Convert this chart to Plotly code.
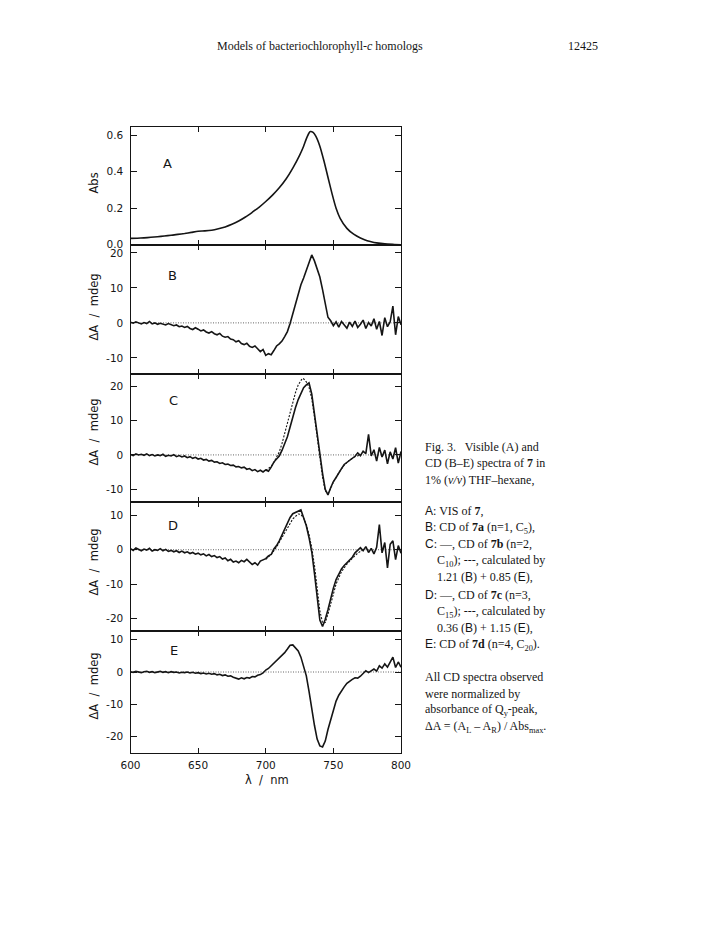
import plotly.graph_objects as go

# ---------------- data ----------------
# Panel A: visible absorption spectrum
abs_wl = [600, 605, 610, 615, 620, 625, 630, 635, 640, 645, 650, 655, 660, 665, 670,
          675, 680, 685, 690, 695, 700, 705, 710, 715, 720, 725, 728, 730, 732, 733,
          735, 737, 740, 743, 746, 749, 752, 755, 760, 765, 770, 775, 780, 785, 790,
          795, 800]
abs_val = [0.035, 0.036, 0.038, 0.041, 0.044, 0.048, 0.052, 0.057, 0.062, 0.068, 0.074,
           0.076, 0.080, 0.088, 0.098, 0.112, 0.130, 0.152, 0.178, 0.205, 0.237, 0.272,
           0.312, 0.360, 0.420, 0.490, 0.540, 0.580, 0.612, 0.620, 0.615, 0.595, 0.540,
           0.460, 0.370, 0.280, 0.200, 0.145, 0.090, 0.058, 0.037, 0.022, 0.013, 0.008,
           0.004, 0.002, 0.000]

# CD wavelength grid
cd_wl = [600, 602, 604, 606, 608, 610, 612, 614, 616, 618, 620, 622, 624, 626, 628,
         630, 632, 634, 636, 638, 640, 642, 644, 646, 648, 650, 652, 654, 656, 658,
         660, 662, 664, 666, 668, 670, 672, 674, 676, 678, 680, 682, 684, 686, 688,
         690, 692, 694, 696, 698, 700, 702, 704, 706, 708, 710, 712, 714, 716, 718,
         720, 722, 724, 726, 728, 730, 732, 734, 736, 738, 740, 742, 744, 746, 748,
         750, 752, 754, 756, 758, 760, 762, 764, 766, 768, 770, 772, 774, 776, 778,
         780, 782, 784, 786, 788, 790, 792, 794, 796, 798, 800]

cd_b = [0.2, -0.1, 0.3, 0.0, -0.3, 0.1, -0.2, 0.4, -0.3, 0.0, -0.4, -0.1, -0.3, -0.6, -0.2,
        -0.5, -0.8, -0.6, -1.1, -0.9, -1.3, -1.0, -1.6, -1.9, -1.4, -1.8, -2.3, -2.0, -2.6, -2.9,
        -2.5, -3.1, -3.4, -3.0, -3.8, -4.1, -3.9, -4.6, -4.8, -5.4, -5.1, -5.9, -6.2, -5.8, -6.7,
        -7.0, -6.6, -7.4, -8.2, -7.6, -9.3, -8.8, -9.1, -7.9, -6.6, -6.0, -5.2, -3.9, -2.5, -0.2,
        2.5, 5.7, 8.6, 10.9, 12.8, 15.2, 17.6, 19.4, 17.7, 15.6, 13.1, 9.5, 6.0, 1.6, 0.6,
        -0.8, 0.3, -1.2, 0.4, -0.6, -1.5, 0.2, -1.0, 0.5, -1.3, -0.4, 0.8, -1.6, 0.1, -0.9,
        1.2, -1.8, 0.4, -3.6, 1.5, -1.1, 0.3, 4.8, -3.4, 1.8, -0.5]

cd_c = [0.1, -0.2, 0.3, 0.0, 0.2, -0.1, 0.3, -0.2, 0.1, -0.3, 0.0, -0.2, 0.2, -0.4, -0.1,
        -0.3, 0.1, -0.5, -0.2, -0.6, -0.3, -0.8, -0.5, -1.0, -0.7, -1.2, -1.0, -1.5, -1.3, -1.8,
        -1.6, -2.1, -2.0, -2.5, -2.3, -2.8, -2.7, -3.1, -3.0, -3.5, -3.4, -3.8, -3.6, -4.2, -4.0,
        -4.6, -4.3, -4.9, -4.5, -5.0, -4.4, -4.8, -3.6, -2.1, -1.2, -0.3, 1.3, 3.2, 5.3, 8.2,
        11.2, 13.9, 16.2, 18.2, 19.7, 20.5, 21.1, 17.9, 12.0, 5.7, 0.0, -5.4, -10.1, -11.7, -9.6,
        -7.8, -6.6, -5.1, -4.0, -2.8, -2.2, -1.4, -1.0, -0.4, 0.6, -0.2, 1.1, 0.4, 6.0, -0.3,
        1.5, -1.8, 2.2, -0.6, 1.4, -2.6, 0.9, -1.2, 2.1, -2.4, 1.0]

cd_d = [0.3, -0.2, 0.5, 0.1, -0.3, 0.2, -0.1, 0.4, -0.4, 0.0, -0.2, 0.3, -0.3, 0.1, -0.5,
        -0.2, -0.6, -0.3, -0.8, -0.4, -0.9, -0.6, -1.1, -0.8, -1.3, -1.0, -1.5, -1.2, -1.8, -1.4,
        -2.0, -1.7, -2.3, -2.0, -2.7, -2.4, -3.2, -2.8, -3.6, -3.3, -3.8, -3.1, -3.5, -2.8, -3.6,
        -4.3, -3.8, -4.5, -3.3, -3.0, -2.6, -1.8, -1.4, 0.2, 1.2, 2.6, 4.3, 5.6, 7.6, 9.4,
        10.5, 10.8, 11.3, 11.6, 9.3, 7.0, 3.5, -0.6, -6.8, -13.8, -20.5, -22.4, -20.3, -17.5, -14.2,
        -11.2, -8.7, -7.0, -5.6, -4.6, -3.8, -2.9, -2.2, -0.9, -0.2, 0.6, -0.3, 0.9, -0.8, 0.4,
        -1.2, 0.7, 7.3, -0.9, 2.1, -5.3, 1.6, 2.6, -2.9, 1.2, -1.0]

cd_e = [0.1, -0.1, 0.2, 0.0, -0.2, 0.1, 0.2, -0.1, 0.1, -0.2, 0.0, 0.2, -0.1, 0.1, -0.2,
        0.1, -0.1, 0.0, -0.3, -0.1, -0.2, 0.0, -0.3, -0.1, -0.4, -0.2, -0.5, -0.3, -0.6, -0.4,
        -0.7, -0.5, -0.9, -0.7, -1.1, -0.9, -1.3, -1.2, -1.6, -1.9, -2.2, -1.8, -2.1, -1.7, -1.9,
        -1.4, -1.5, -1.0, -0.8, -0.3, 0.6, 1.1, 1.9, 2.6, 3.4, 4.3, 5.0, 6.0, 7.1, 8.3,
        8.4, 7.6, 6.5, 4.6, 1.9, -1.2, -6.0, -11.6, -16.5, -20.8, -22.9, -23.2, -21.4, -17.8, -15.0,
        -11.8, -9.0, -7.2, -5.8, -4.6, -3.5, -2.8, -2.3, -1.8, -1.9, -1.3, -0.6, 0.4, -0.2, 0.5,
        0.9, 0.3, 1.9, 1.2, 2.5, 1.5, 3.2, 4.6, 1.4, 3.1, 1.5]

# calculated spectra (dotted)
calc_c_wl = [700, 704, 706, 708, 710, 712, 714, 716, 718, 720, 722, 724, 726, 727, 728,
             730, 732, 734, 736, 738, 740, 742, 744, 746, 748, 750, 754, 758, 762, 766, 770]
calc_c = [-4.5, -3.4, -2.2, -0.8, 0.9, 3.3, 6.3, 9.6, 12.8, 15.7, 18.3, 20.5, 22.0, 22.4, 22.3,
          21.4, 19.8, 16.5, 11.2, 5.0, -1.0, -6.5, -10.5, -11.3, -9.8, -8.0, -5.2, -3.0, -1.5, -0.5, 0.0]

calc_d_wl = [700, 704, 708, 712, 716, 720, 724, 726, 728, 730, 732, 734, 736, 738, 740,
             742, 744, 746, 748, 750, 752, 756, 760, 764, 768, 772]
calc_d = [-2.8, -1.4, 0.8, 3.6, 6.6, 9.0, 10.4, 10.3, 9.2, 7.3, 4.4, 0.6, -4.5, -11.0, -17.8,
          -21.3, -21.2, -18.8, -15.6, -12.6, -10.0, -6.4, -4.2, -2.5, -1.0, 0.0]

zero_wl = [600, 800]
zero_val = [0, 0]

panel_letters = ["A", "B", "C", "D", "E"]
x_ticks = [600, 650, 700, 750, 800]
y_ticks = [[0.0, 0.2, 0.4, 0.6], [-10, 0, 10, 20], [-10, 0, 10, 20],
           [-20, -10, 0, 10], [-20, -10, 0, 10]]
y_ticktext = [["0.0", "0.2", "0.4", "0.6"], ["-10", "0", "10", "20"], ["-10", "0", "10", "20"],
              ["-20", "-10", "0", "10"], ["-20", "-10", "0", "10"]]
y_ranges = [[0.0, 0.645], [-14.6, 22.3], [-13.7, 23.7], [-23.7, 14.0], [-25.0, 12.7]]

# ---------------- layout geometry ----------------
W, H = 701, 932
X0, X1 = 130.5, 401.0
panel_px = [(127.0, 244.8), (244.8, 374.0), (374.0, 501.7), (501.7, 631.0), (631.0, 752.7)]


def px(x):
    return x / W


def py(y):
    return 1 - y / H


INK = "#151515"
SANS = "DejaVu Sans"
SERIF = "Liberation Serif"

fig = go.Figure()

series = [None, cd_b, cd_c, cd_d, cd_e]
for i in range(5):
    xa = "x" if i == 0 else f"x{i+1}"
    ya = "y" if i == 0 else f"y{i+1}"
    if i == 0:
        fig.add_trace(go.Scatter(x=abs_wl, y=abs_val, mode="lines", xaxis=xa, yaxis=ya,
                                 line=dict(color=INK, width=1.6, shape="spline", smoothing=0.6),
                                 showlegend=False, hoverinfo="skip"))
    else:
        fig.add_trace(go.Scatter(x=zero_wl, y=zero_val, mode="lines", xaxis=xa, yaxis=ya,
                                 line=dict(color="#666666", width=1, dash="1px,1.5px"),
                                 showlegend=False, hoverinfo="skip"))
        if i == 2:
            fig.add_trace(go.Scatter(x=calc_c_wl, y=calc_c, mode="lines", xaxis=xa, yaxis=ya,
                                     line=dict(color=INK, width=1.1, dash="2px,1.5px"),
                                     showlegend=False, hoverinfo="skip"))
        if i == 3:
            fig.add_trace(go.Scatter(x=calc_d_wl, y=calc_d, mode="lines", xaxis=xa, yaxis=ya,
                                     line=dict(color=INK, width=1.1, dash="2px,1.5px"),
                                     showlegend=False, hoverinfo="skip"))
        fig.add_trace(go.Scatter(x=cd_wl, y=series[i], mode="lines", xaxis=xa, yaxis=ya,
                                 line=dict(color=INK, width=1.6),
                                 showlegend=False, hoverinfo="skip"))

layout = dict(
    width=W, height=H, autosize=False,
    margin=dict(l=0, r=0, t=0, b=0, pad=0, autoexpand=False),
    paper_bgcolor="white", plot_bgcolor="white",
    showlegend=False,
    font=dict(family=SANS, color=INK, size=10),
)

annotations = []
for i in range(5):
    top, bot = panel_px[i]
    xk = "xaxis" if i == 0 else f"xaxis{i+1}"
    yk = "yaxis" if i == 0 else f"yaxis{i+1}"
    ya = "y" if i == 0 else f"y{i+1}"
    xa = "x" if i == 0 else f"x{i+1}"
    layout[xk] = dict(
        domain=[px(X0), px(X1)], anchor=ya, range=[600, 800],
        tickvals=x_ticks, ticktext=[str(v) for v in x_ticks],
        showticklabels=(i == 4), ticks="inside", ticklen=5, tickwidth=1.2,
        tickcolor=INK, showline=True, linecolor=INK, linewidth=1.3, mirror="ticks",
        showgrid=False, zeroline=False, ticklabelstandoff=3, automargin=False,
        tickfont=dict(family=SANS, size=10.5, color=INK),
    )
    layout[yk] = dict(
        domain=[py(bot), py(top)], anchor=xa, range=y_ranges[i],
        tickvals=y_ticks[i], ticktext=y_ticktext[i],
        ticks="inside", ticklen=6, tickwidth=1.2, tickcolor=INK,
        showline=True, linecolor=INK, linewidth=1.3, mirror="ticks",
        showgrid=False, zeroline=False, ticklabelstandoff=4, automargin=False,
        tickfont=dict(family=SANS, size=10.5, color=INK),
    )

# panel letters
letter_pos = [(167.5, 163.0), (172.0, 275.0), (173.0, 400.0), (173.0, 525.0), (174.0, 650.0)]
for (lx, ly), t in zip(letter_pos, panel_letters):
    annotations.append(dict(x=px(lx), y=py(ly), xref="paper", yref="paper", text=t,
                            showarrow=False, xanchor="center", yanchor="middle",
                            font=dict(family=SANS, size=13, color=INK)))

# y titles
ytitle_pos = [("Abs", 183.0), ("ΔA\u00a0\u00a0/\u00a0\u00a0mdeg", 307.0),
              ("ΔA\u00a0\u00a0/\u00a0\u00a0mdeg", 432.0), ("ΔA\u00a0\u00a0/\u00a0\u00a0mdeg", 562.0),
              ("ΔA\u00a0\u00a0/\u00a0\u00a0mdeg", 686.0)]
for t, ty in ytitle_pos:
    annotations.append(dict(x=px(93.5), y=py(ty), xref="paper", yref="paper", text=t,
                            textangle=-90, showarrow=False, xanchor="center", yanchor="middle",
                            font=dict(family=SANS, size=11.5, color=INK)))

# x title
annotations.append(dict(x=px(267), y=py(780), xref="paper", yref="paper",
                        text="λ\u00a0\u00a0/\u00a0\u00a0nm", showarrow=False,
                        xanchor="center", yanchor="middle",
                        font=dict(family=SANS, size=11.5, color=INK)))

# running header
annotations.append(dict(x=px(320), y=py(46), xref="paper", yref="paper",
                        text="Models of bacteriochlorophyll-<i>c</i> homologs", showarrow=False,
                        xanchor="center", yanchor="middle",
                        font=dict(family=SERIF, size=12, color=INK)))
annotations.append(dict(x=px(600), y=py(46), xref="paper", yref="paper",
                        text="12425", showarrow=False, xanchor="right", yanchor="middle",
                        font=dict(family=SERIF, size=12, color=INK)))

# caption
S = '<span style="font-family:Liberation Sans">'
E_ = '</span>'
caption = [
    (423, 447, "Fig. 3.\u00a0\u00a0 Visible (A) and"),
    (423, 463.5, "CD (B–E) spectra of <b>7</b> in"),
    (423, 480, "1% (<i>v/v</i>) THF–hexane,"),
    (423, 511, f"{S}A{E_}: VIS of <b>7</b>,"),
    (423, 527.5, f"{S}B{E_}: CD of <b>7a</b> (n=1, C<sub>5</sub>),"),
    (423, 544, f"{S}C{E_}: —, CD of <b>7b</b> (n=2,"),
    (435, 560.5, "C<sub>10</sub>); ---, calculated by"),
    (435, 577, f"1.21 ({S}B{E_}) + 0.85 ({S}E{E_}),"),
    (423, 595, f"{S}D{E_}: —, CD of <b>7c</b> (n=3,"),
    (435, 611.5, "C<sub>15</sub>); ---, calculated by"),
    (435, 628, f"0.36 ({S}B{E_}) + 1.15 ({S}E{E_}),"),
    (423, 644.5, f"{S}E{E_}: CD of <b>7d</b> (n=4, C<sub>20</sub>)."),
    (423, 677, "All CD spectra observed"),
    (423, 693.5, "were normalized by"),
    (423, 710, "absorbance of Q<sub>y</sub>-peak,"),
    (423, 726.5, "ΔA = (A<sub>L</sub> – A<sub>R</sub>) / Abs<sub>max</sub>."),
]
for cx, cy, t in caption:
    annotations.append(dict(x=px(cx), y=py(cy), xref="paper", yref="paper", text=t,
                            showarrow=False, xanchor="left", yanchor="middle", align="left",
                            font=dict(family=SERIF, size=12, color=INK)))

layout["annotations"] = annotations
fig.update_layout(**layout)
fig.write_html("out.html",
               config={"displayModeBar": False, "responsive": False},
               post_script="document.body.style.margin='0px';document.body.style.padding='0px';")
